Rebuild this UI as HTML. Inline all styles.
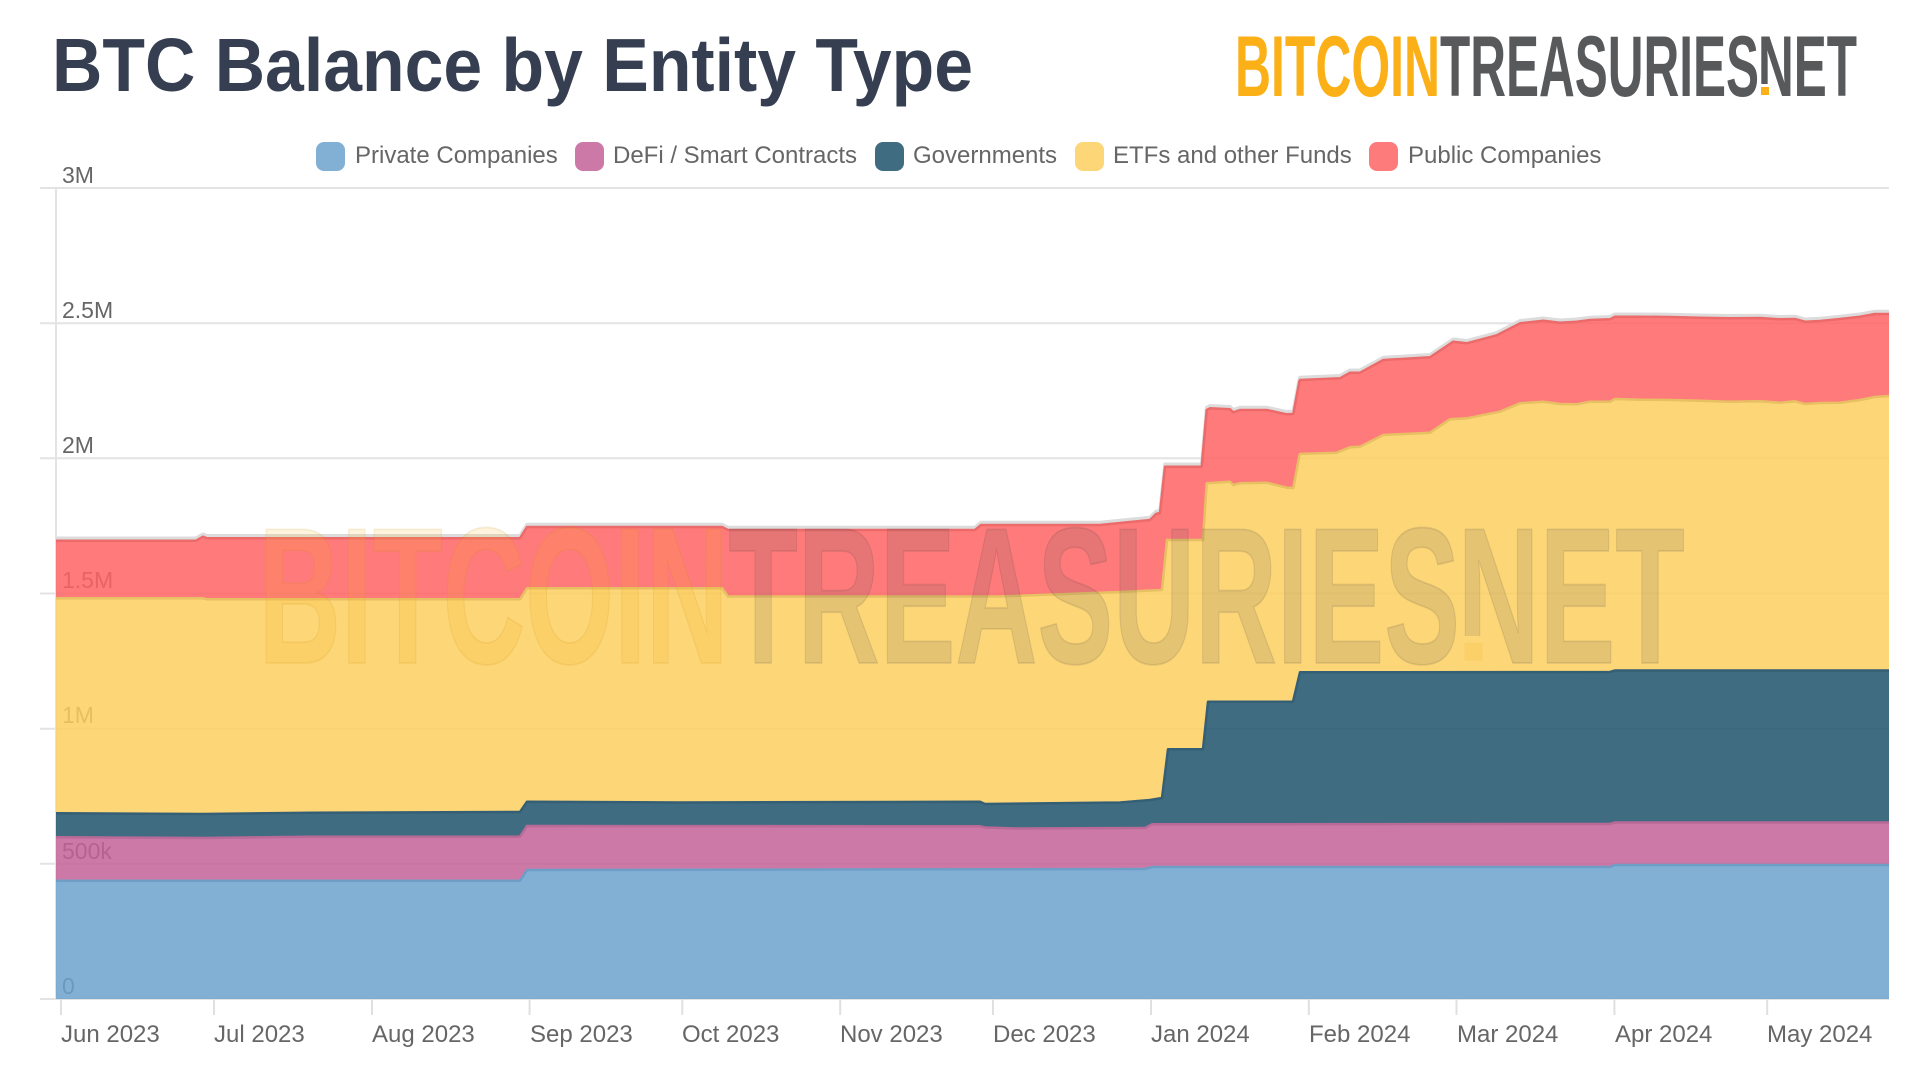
<!DOCTYPE html>
<html>
<head>
<meta charset="utf-8">
<style>
html,body{margin:0;padding:0;background:#fff;}
body{width:1920px;height:1080px;overflow:hidden;}
svg{display:block;}
text{font-family:"Liberation Sans",Arial,sans-serif;}
</style>
</head>
<body>
<svg width="1920" height="1080" viewBox="0 0 1920 1080" xmlns="http://www.w3.org/2000/svg">
  <defs>
    <mask id="wmmask" maskUnits="userSpaceOnUse" x="0" y="0" width="1920" height="1080">
      <rect x="0" y="0" width="1920" height="1080" fill="#fff"/>
      <rect x="1758" y="84" width="13" height="14" fill="#000"/>
    </mask>
  </defs>
  <rect width="1920" height="1080" fill="#ffffff"/>

  <!-- Title -->
  <text x="52" y="91" font-size="75" font-weight="bold" fill="#363f51" textLength="921" lengthAdjust="spacingAndGlyphs">BTC Balance by Entity Type</text>

  <!-- Logo -->
  <g id="logo">
    <text x="1235" y="96" font-size="86" font-weight="bold" fill="#fbb017" textLength="205" lengthAdjust="spacingAndGlyphs">BITCOIN</text>
    <text x="1440" y="96" font-size="86" font-weight="bold" fill="#58595b" textLength="319" lengthAdjust="spacingAndGlyphs">TREASURIES</text>
    <text x="1758" y="96" font-size="86" font-weight="bold" fill="#58595b" textLength="99" lengthAdjust="spacingAndGlyphs" mask="url(#wmmask)">NET</text>
    <rect x="1761" y="87" width="8" height="8" fill="#fbb017"/>
  </g>

  <!-- Legend -->
  <g font-size="24" fill="#666666">
    <rect x="316" y="142" width="29" height="29" rx="8" fill="#82b0d5"/>
    <text x="355" y="163">Private Companies</text>
    <rect x="575" y="142" width="29" height="29" rx="8" fill="#cd79a8"/>
    <text x="613" y="163">DeFi / Smart Contracts</text>
    <rect x="875" y="142" width="29" height="29" rx="8" fill="#406c82"/>
    <text x="913" y="163">Governments</text>
    <rect x="1075" y="142" width="29" height="29" rx="8" fill="#fdd677"/>
    <text x="1113" y="163">ETFs and other Funds</text>
    <rect x="1369" y="142" width="29" height="29" rx="8" fill="#fe7b7b"/>
    <text x="1408" y="163">Public Companies</text>
  </g>

  <!-- Gridlines -->
  <g stroke="#e3e3e3" stroke-width="2">
    <line x1="40" y1="188" x2="1889" y2="188"/>
    <line x1="40" y1="323.2" x2="1889" y2="323.2"/>
    <line x1="40" y1="458.3" x2="1889" y2="458.3"/>
    <line x1="40" y1="593.5" x2="1889" y2="593.5"/>
    <line x1="40" y1="728.7" x2="1889" y2="728.7"/>
    <line x1="40" y1="863.8" x2="1889" y2="863.8"/>
    <line x1="40" y1="999" x2="1889" y2="999"/>
    <line x1="56" y1="188" x2="56" y2="999"/>
  </g>

  <!-- Y labels -->
  <g font-size="23" fill="#666666">
    <text x="62" y="183">3M</text>
    <text x="62" y="318">2.5M</text>
    <text x="62" y="453">2M</text>
    <text x="62" y="588">1.5M</text>
    <text x="62" y="723">1M</text>
    <text x="62" y="859">500k</text>
    <text x="62" y="994">0</text>
  </g>

  <!-- X ticks -->
  <g stroke="#e0e0e0" stroke-width="2">
    <line x1="61" y1="999" x2="61" y2="1015"/>
    <line x1="214" y1="999" x2="214" y2="1015"/>
    <line x1="372" y1="999" x2="372" y2="1015"/>
    <line x1="529.6" y1="999" x2="529.6" y2="1015"/>
    <line x1="682.3" y1="999" x2="682.3" y2="1015"/>
    <line x1="840.2" y1="999" x2="840.2" y2="1015"/>
    <line x1="993" y1="999" x2="993" y2="1015"/>
    <line x1="1151" y1="999" x2="1151" y2="1015"/>
    <line x1="1308.8" y1="999" x2="1308.8" y2="1015"/>
    <line x1="1456.5" y1="999" x2="1456.5" y2="1015"/>
    <line x1="1614.4" y1="999" x2="1614.4" y2="1015"/>
    <line x1="1767.2" y1="999" x2="1767.2" y2="1015"/>
  </g>
  <g font-size="24" fill="#666666">
    <text x="61" y="1042">Jun 2023</text>
    <text x="214" y="1042">Jul 2023</text>
    <text x="372" y="1042">Aug 2023</text>
    <text x="530" y="1042">Sep 2023</text>
    <text x="682" y="1042">Oct 2023</text>
    <text x="840" y="1042">Nov 2023</text>
    <text x="993" y="1042">Dec 2023</text>
    <text x="1151" y="1042">Jan 2024</text>
    <text x="1309" y="1042">Feb 2024</text>
    <text x="1457" y="1042">Mar 2024</text>
    <text x="1615" y="1042">Apr 2024</text>
    <text x="1767" y="1042">May 2024</text>
  </g>

  <!-- Halo above top series -->
  <polyline transform="translate(0,-2.5)" fill="none" stroke="#dcdcdc" stroke-width="3.5" stroke-linejoin="round"
    points="56,540.7 196,540.7 203,536.7 207,538.3 520,538.3 527,527 722,527 728,530 975,530 981,525 1100,525 1130,522 1150,520 1156,514 1160,513 1165,466.7 1201.7,466.7 1206.7,410 1210,408.3 1230,409.3 1233.3,412.3 1240,410 1266.7,410 1286.7,414.3 1293.3,414 1299.3,381.7 1300,380 1340,378.3 1350,372.7 1360,372.7 1383.3,360 1430,357.3 1453.3,341.7 1466.7,343.3 1496.7,335.3 1520,323.3 1543.3,320.7 1560,322.7 1576.7,321.7 1590,320 1610,319.3 1615,316.7 1640,316.7 1670,317 1700,317.7 1730,318.3 1760,318 1780,319.3 1795,319 1805,321.7 1820,321 1840,319 1860,316.7 1875,314 1889,314"/>

  <!-- Bands -->
  <g fill-opacity="0.85">
    <polygon fill="#6ca2ce" points="56,880.7 520,880.7 527,870 1145,869 1152,867 1610,867 1615,865 1889,865 1889,999 56,999"/>
    <polygon fill="#c46199" points="56,837.3 203,838 310,836.7 520,836.7 527,826 980,826.3 985,827.5 1016,828.5 1145,828 1152,824.3 1610,824 1615,822.5 1889,822.5 1889,865 1615,865 1610,867 1152,867 1145,869 527,870 520,880.7 56,880.7"/>
    <polygon fill="#1e526c" points="56,813.3 203,814 310,812.7 520,812 527,801.7 680,802.5 980,801.8 985,804 1120,802.5 1150,800 1162,798 1168,749.3 1203,749.3 1208,701.7 1293,701.7 1300,672.3 1610,672 1615,670.5 1889,670.5 1889,822.5 1615,822.5 1610,824 1152,824.3 1145,828 1016,828.5 985,827.5 980,826.3 527,826 520,836.7 310,836.7 203,838 56,837.3"/>
    <polygon fill="#fdcf5f" points="56,598.3 203,598.3 207,599.3 520,599.3 527,588.3 722,588.3 728,596.5 1000,596.5 1120,592 1162,590 1167,540 1203,540 1206.7,483.3 1230,481.7 1233.3,485 1240,483.3 1266.7,482.7 1286.7,487.7 1293.3,488 1299.3,456 1300,454 1336.7,452.7 1350,447.3 1360,446.7 1383.3,435 1430,432.7 1450,419.3 1466.7,418.3 1500,411.7 1520,403.3 1543.3,401.7 1560,404 1576.7,404.3 1590,401.7 1610,401.7 1615,399 1640,399.7 1670,400 1700,400.7 1730,401.7 1760,401.3 1780,402.7 1795,401.3 1805,404 1820,403 1840,402.7 1860,400 1875,397 1889,396 1889,670.5 1615,670.5 1610,672 1300,672.3 1293,701.7 1208,701.7 1203,749.3 1168,749.3 1162,798 1150,800 1120,802.5 985,804 980,801.8 680,802.5 527,801.7 520,812 310,812.7 203,814 56,813.3"/>
    <polygon fill="#ff6464" points="56,540.7 196,540.7 203,536.7 207,538.3 520,538.3 527,527 722,527 728,530 975,530 981,525 1100,525 1130,522 1150,520 1156,514 1160,513 1165,466.7 1201.7,466.7 1206.7,410 1210,408.3 1230,409.3 1233.3,412.3 1240,410 1266.7,410 1286.7,414.3 1293.3,414 1299.3,381.7 1300,380 1340,378.3 1350,372.7 1360,372.7 1383.3,360 1430,357.3 1453.3,341.7 1466.7,343.3 1496.7,335.3 1520,323.3 1543.3,320.7 1560,322.7 1576.7,321.7 1590,320 1610,319.3 1615,316.7 1640,316.7 1670,317 1700,317.7 1730,318.3 1760,318 1780,319.3 1795,319 1805,321.7 1820,321 1840,319 1860,316.7 1875,314 1889,314 1889,396 1875,397 1860,400 1840,402.7 1820,403 1805,404 1795,401.3 1780,402.7 1760,401.3 1730,401.7 1700,400.7 1670,400 1640,399.7 1615,399 1610,401.7 1590,401.7 1576.7,404.3 1560,404 1543.3,401.7 1520,403.3 1500,411.7 1466.7,418.3 1450,419.3 1430,432.7 1383.3,435 1360,446.7 1350,447.3 1336.7,452.7 1300,454 1299.3,456 1293.3,488 1286.7,487.7 1266.7,482.7 1240,483.3 1233.3,485 1230,481.7 1206.7,483.3 1203,540 1167,540 1162,590 1120,592 1000,596.5 728,596.5 722,588.3 527,588.3 520,599.3 207,599.3 203,598.3 56,598.3"/>
  </g>

  <!-- Top lines -->
  <g fill="none" stroke-width="2.5" stroke-linejoin="round">
    <polyline stroke="#6e9ec6" points="56,880.7 520,880.7 527,870 1145,869 1152,867 1610,867 1615,865 1889,865"/>
    <polyline stroke="#b96a97" points="56,837.3 203,838 310,836.7 520,836.7 527,826 980,826.3 985,827.5 1016,828.5 1145,828 1152,824.3 1610,824 1615,822.5 1889,822.5"/>
    <polyline stroke="#355f74" points="56,813.3 203,814 310,812.7 520,812 527,801.7 680,802.5 980,801.8 985,804 1120,802.5 1150,800 1162,798 1168,749.3 1203,749.3 1208,701.7 1293,701.7 1300,672.3 1610,672 1615,670.5 1889,670.5"/>
    <polyline stroke="#e8c064" points="56,598.3 203,598.3 207,599.3 520,599.3 527,588.3 722,588.3 728,596.5 1000,596.5 1120,592 1162,590 1167,540 1203,540 1206.7,483.3 1230,481.7 1233.3,485 1240,483.3 1266.7,482.7 1286.7,487.7 1293.3,488 1299.3,456 1300,454 1336.7,452.7 1350,447.3 1360,446.7 1383.3,435 1430,432.7 1450,419.3 1466.7,418.3 1500,411.7 1520,403.3 1543.3,401.7 1560,404 1576.7,404.3 1590,401.7 1610,401.7 1615,399 1640,399.7 1670,400 1700,400.7 1730,401.7 1760,401.3 1780,402.7 1795,401.3 1805,404 1820,403 1840,402.7 1860,400 1875,397 1889,396"/>
    <polyline stroke="#ec6a6a" points="56,540.7 196,540.7 203,536.7 207,538.3 520,538.3 527,527 722,527 728,530 975,530 981,525 1100,525 1130,522 1150,520 1156,514 1160,513 1165,466.7 1201.7,466.7 1206.7,410 1210,408.3 1230,409.3 1233.3,412.3 1240,410 1266.7,410 1286.7,414.3 1293.3,414 1299.3,381.7 1300,380 1340,378.3 1350,372.7 1360,372.7 1383.3,360 1430,357.3 1453.3,341.7 1466.7,343.3 1496.7,335.3 1520,323.3 1543.3,320.7 1560,322.7 1576.7,321.7 1590,320 1610,319.3 1615,316.7 1640,316.7 1670,317 1700,317.7 1730,318.3 1760,318 1780,319.3 1795,319 1805,321.7 1820,321 1840,319 1860,316.7 1875,314 1889,314"/>
  </g>

  <!-- Watermark -->
  <g transform="translate(263 523) scale(2.293 2.258) translate(-1237 -34)" fill-opacity="0.15" stroke-opacity="0.12" stroke-width="0.8">
    <text x="1235" y="96" font-size="86" font-weight="bold" fill="#fbb017" stroke="#c08000" textLength="205" lengthAdjust="spacingAndGlyphs">BITCOIN</text>
    <text x="1440" y="96" font-size="86" font-weight="bold" fill="#58595b" stroke="#333333" textLength="319" lengthAdjust="spacingAndGlyphs">TREASURIES</text>
    <text x="1758" y="96" font-size="86" font-weight="bold" fill="#58595b" stroke="#333333" textLength="99" lengthAdjust="spacingAndGlyphs" mask="url(#wmmask)">NET</text>
    <rect x="1761" y="87" width="8" height="8" fill="#fbb017"/>
  </g>
</svg>
</body>
</html>
